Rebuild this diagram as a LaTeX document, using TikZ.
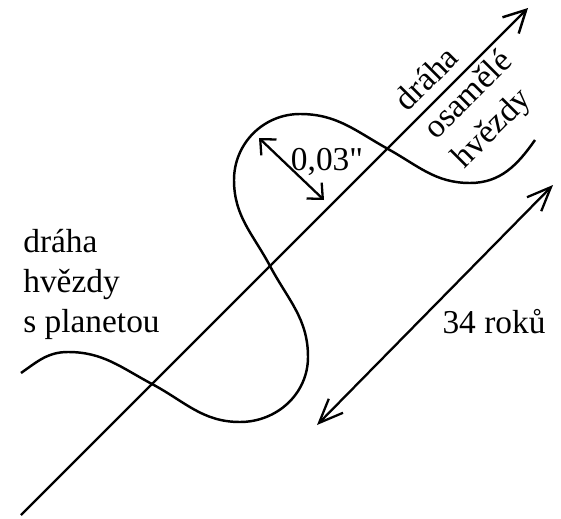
\documentclass[tikz,border=0pt]{standalone}
\usepackage{fontspec}
\newfontfamily\plainserif{Liberation Serif}
\usetikzlibrary{arrows.meta}

\begin{document}
\begin{tikzpicture}[
  x=0.02cm, y=0.02cm,
  orbit/.style={line width=1.4pt, line join=round},
  axis/.style={line width=1.4pt, -{Straight Barb[length=4.4mm, width=4.6mm]}},
  span/.style={line width=1.3pt, {Straight Barb[length=4.8mm, width=4mm]}-{Straight Barb[length=4.8mm, width=4mm]}},
  gap/.style={line width=1.3pt, {Straight Barb[length=2.4mm, width=4.4mm]}-{Straight Barb[length=2.4mm, width=4.4mm]}},
  txt/.style={font=\plainserif\fontsize{19}{22.8}\selectfont, inner sep=0pt}
]
  \useasboundingbox (0,0) rectangle (561,518);

  % osa: draha osamele hvezdy
  \coordinate (ax0) at (21,3);
  \coordinate (ax1) at (528,510);
  \draw[axis] (ax0) -- (ax1);

  % body vlnovky
  \coordinate (a0) at (21,145);
  \coordinate (a1) at (68,166);
  \coordinate (a2) at (152,134);
  \coordinate (a3) at (240,96);
  \coordinate (a4) at (308,161);
  \coordinate (a5) at (270,252);
  \coordinate (a6) at (234,338);
  \coordinate (a7) at (300,404);
  \coordinate (a8) at (388,369);
  \coordinate (a9) at (470,335);
  \coordinate (a10) at (535,378);

  \draw[orbit] (a0) to[out=35,in=180] (a1) to[out=0,in=152] (a2)
    to[out=-28,in=180] (a3) to[out=0,in=-90] (a4) to[out=90,in=-62] (a5)
    to[out=118,in=-90] (a6) to[out=90,in=180] (a7) to[out=0,in=151] (a8)
    to[out=-29,in=180] (a9) to[out=0,in=235] (a10);

  % koty
  \coordinate (d1) at (259,380);
  \coordinate (d2) at (324,318);
  \draw[gap] (d1) -- (d2);
  \coordinate (r1) at (317,93);
  \coordinate (r2) at (553,333);
  \draw[span] (r1) -- (r2);

  % popisky
  \node[txt, anchor=base] (amp) at (327,348) {0,03"};
  \node[txt, anchor=base] (per) at (494,185) {34 roků};
  \node[txt, anchor=north west, align=left] (planet) at (23,289) {dráha\\hvězdy\\s planetou};
  \node[txt, anchor=north west, align=left, rotate=45] (lone) at (391,422) {dráha\\osamělé\\hvězdy};
\end{tikzpicture}
\end{document}
